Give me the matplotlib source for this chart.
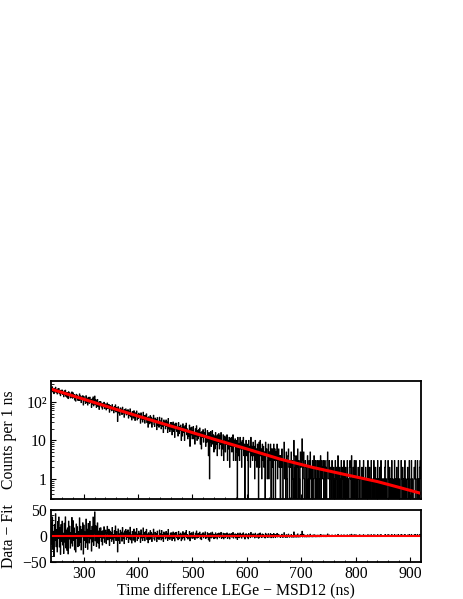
import numpy as np
import matplotlib
matplotlib.use("Agg")
import matplotlib.pyplot as plt
from matplotlib.ticker import FixedLocator, LogLocator, MultipleLocator, NullFormatter, FuncFormatter

plt.rcParams['font.family'] = ['Liberation Serif', 'DejaVu Serif']
plt.rcParams['font.size'] = 11.3

# histogram: 1 ns bins starting at 240 ns
bin_start = 240
bin_width = 1

counts_240_409 = [
    240, 196, 247, 182, 215, 164, 224, 191, 241, 175,
    206, 161, 218, 183, 223, 163, 198, 145, 201, 167,
    204, 156, 177, 136, 193, 155, 202, 140, 173, 132,
    174, 122, 184, 148, 171, 127, 156, 134, 182, 125,
    173, 133, 156, 112, 142, 105, 158, 129, 150, 110,
    138, 109, 162, 113, 143, 96, 134, 119, 145, 83,
    138, 107, 122, 91, 145, 98, 123, 83, 132, 105,
    92, 133, 98, 112, 72, 119, 88, 135, 79, 101,
    142, 85, 113, 72, 97, 116, 76, 98, 64, 102,
    83, 101, 74, 92, 65, 92, 77, 98, 67, 84,
    89, 62, 82, 94, 67, 72, 86, 54, 81, 66,
    77, 59, 85, 62, 70, 52, 76, 62, 84, 55,
    72, 58, 31, 75, 52, 64, 45, 70, 57, 65,
    47, 73, 52, 61, 40, 64, 53, 66, 46, 60,
    49, 63, 38, 57, 44, 66, 41, 50, 34, 56,
    51, 38, 59, 43, 33, 52, 43, 58, 34, 46,
    37, 51, 40, 46, 28, 52, 36, 41, 30, 54,
]
counts_410_579 = [
    35, 44, 28, 45, 36, 49, 29, 39, 22, 41,
    37, 27, 44, 29, 40, 22, 36, 32, 45, 26,
    23, 38, 29, 35, 19, 39, 25, 30, 22, 40,
    25, 32, 20, 38, 23, 29, 16, 34, 25, 31,
    20, 34, 23, 30, 16, 37, 20, 25, 17, 29,
    20, 29, 14, 25, 30, 17, 26, 12, 28, 20,
    28, 17, 22, 13, 29, 15, 23, 18, 25, 10,
    21, 13, 27, 16, 22, 10, 24, 17, 28, 14,
    20, 11, 18, 13, 25, 7, 21, 14, 22, 11,
    18, 23, 11, 16, 8, 20, 13, 24, 10, 18,
    11, 19, 13, 21, 8, 16, 6, 17, 12, 19,
    9, 16, 12, 20, 7, 13, 9, 18, 13, 4,
    16, 1, 9, 17, 7, 13, 18, 8, 14, 5,
    13, 6, 16, 8, 13, 4, 14, 9, 15, 6,
    13, 8, 16, 4, 10, 6, 14, 3, 11, 13,
    5, 12, 8, 14, 3, 10, 6, 12, 2, 11,
    7, 12, 5, 9, 14, 3, 10, 7, 11, 3,
]
counts_580_749 = [
    10, 5, 0, 12, 4, 8, 3, 12, 6, 9,
    2, 10, 6, 12, 4, 8, 0, 7, 10, 4,
    8, 3, 0, 10, 5, 7, 2, 12, 4, 7,
    3, 9, 4, 7, 1, 10, 3, 6, 2, 8,
    4, 0, 9, 2, 10, 4, 6, 1, 8, 3,
    7, 2, 5, 0, 9, 4, 6, 1, 3, 8,
    1, 5, 3, 8, 0, 6, 2, 6, 0, 8,
    3, 6, 0, 5, 3, 8, 1, 3, 6, 2,
    4, 0, 4, 2, 6, 0, 0, 3, 9, 1,
    3, 0, 5, 1, 0, 4, 6, 2, 0, 3,
    2, 5, 0, 3, 1, 0, 10, 4, 0, 2,
    4, 0, 2, 6, 0, 3, 1, 0, 5, 2,
    3, 11, 0, 2, 5, 1, 0, 3, 2, 0,
    2, 4, 0, 1, 3, 0, 5, 1, 2, 0,
    3, 0, 1, 4, 2, 0, 3, 0, 1, 3,
    0, 2, 3, 0, 1, 4, 0, 3, 1, 2,
    3, 0, 1, 3, 0, 2, 0, 3, 5, 1,
]
counts_750_919 = [
    1, 3, 0, 2, 1, 0, 3, 1, 0, 2,
    0, 1, 3, 0, 2, 1, 0, 4, 1, 0,
    2, 0, 1, 3, 0, 1, 2, 0, 3, 1,
    0, 2, 0, 1, 3, 0, 1, 0, 2, 3,
    1, 0, 4, 0, 1, 2, 0, 3, 0, 1,
    3, 0, 1, 0, 2, 1, 0, 3, 1, 0,
    0, 2, 1, 0, 3, 0, 1, 0, 2, 0,
    1, 0, 3, 1, 0, 2, 0, 1, 3, 0,
    0, 1, 0, 3, 0, 1, 2, 0, 1, 0,
    3, 0, 1, 0, 2, 0, 3, 1, 0, 1,
    0, 1, 0, 2, 3, 0, 1, 0, 0, 3,
    1, 0, 2, 0, 1, 0, 3, 0, 1, 0,
    0, 3, 0, 1, 0, 2, 0, 1, 3, 0,
    1, 0, 0, 3, 1, 0, 2, 0, 1, 0,
    3, 0, 1, 0, 0, 2, 1, 0, 3, 0,
    0, 1, 3, 0, 1, 0, 0, 2, 1, 3,
    0, 0, 1, 3, 0, 1, 0, 2, 3, 1,
]

# fitted curve
fit_x = [240, 300, 360, 420, 480, 540, 600, 660, 720, 780, 840, 880, 920]
fit_y = [216, 118, 64, 35, 19.5, 10.7, 6.0, 3.3, 2.0, 1.3, 0.85, 0.6, 0.42]

counts = np.array(counts_240_409 + counts_410_579 + counts_580_749 + counts_750_919, dtype=float)
edges = bin_start + bin_width * np.arange(len(counts) + 1)
centers = edges[:-1] + 0.5 * bin_width
fit_at_bins = np.exp(np.interp(centers, fit_x, np.log(fit_y)))
resid = counts - fit_at_bins

W, H = 463, 599
fig = plt.figure(figsize=(W / 100, H / 100), dpi=100)
ax1 = fig.add_axes([51 / W, 1 - 499 / H, 370 / W, 118 / H])
ax2 = fig.add_axes([51 / W, 1 - 561.5 / H, 370 / W, 51.5 / H])

# top panel: data + fit
ax1.step(edges, np.append(counts, counts[-1]), where='post', color='black', lw=0.7)
ax1.plot(fit_x, fit_y, color='red', lw=2.2)
ax1.set_yscale('log', nonpositive='clip')
ax1.set_xlim(240, 920)
ax1.set_ylim(0.3, 350)
ax1.yaxis.set_major_locator(FixedLocator([1, 10, 100]))
ax1.yaxis.set_major_formatter(FuncFormatter(lambda v, p: {1: '1', 10: '10', 100: '10²'}.get(int(round(v)), '')))
ax1.yaxis.set_minor_locator(LogLocator(base=10, subs=range(2, 10)))
ax1.yaxis.set_minor_formatter(NullFormatter())
ax1.set_ylabel('Counts per 1 ns')

# bottom panel: residuals
ax2.step(edges, np.append(resid, resid[-1]), where='post', color='black', lw=0.7)
ax2.axhline(0, color='red', lw=1.5)
ax2.set_xlim(240, 920)
ax2.set_ylim(-50, 50)
ax2.yaxis.set_major_locator(FixedLocator([-50, 0, 50]))
ax2.yaxis.set_minor_locator(MultipleLocator(10))
ax2.set_ylabel('Data − Fit')
ax2.set_xlabel('Time difference LEGe − MSD12 (ns)')

for ax in (ax1, ax2):
    ax.xaxis.set_major_locator(MultipleLocator(100))
    ax.xaxis.set_minor_locator(MultipleLocator(20))
    ax.tick_params(which='both', direction='in', top=False, right=False)
    ax.tick_params(which='major', length=3.5, width=0.8, pad=3)
    ax.tick_params(which='minor', length=1.8, width=0.6)
    for s in ax.spines.values():
        s.set_linewidth(1.3)
    ax.yaxis.set_label_coords(-0.092, 0.5)

ax1.tick_params(labelbottom=False)
ax2.xaxis.set_label_coords(0.5, -0.41)

fig.savefig('out.png', dpi=100, facecolor='white')
